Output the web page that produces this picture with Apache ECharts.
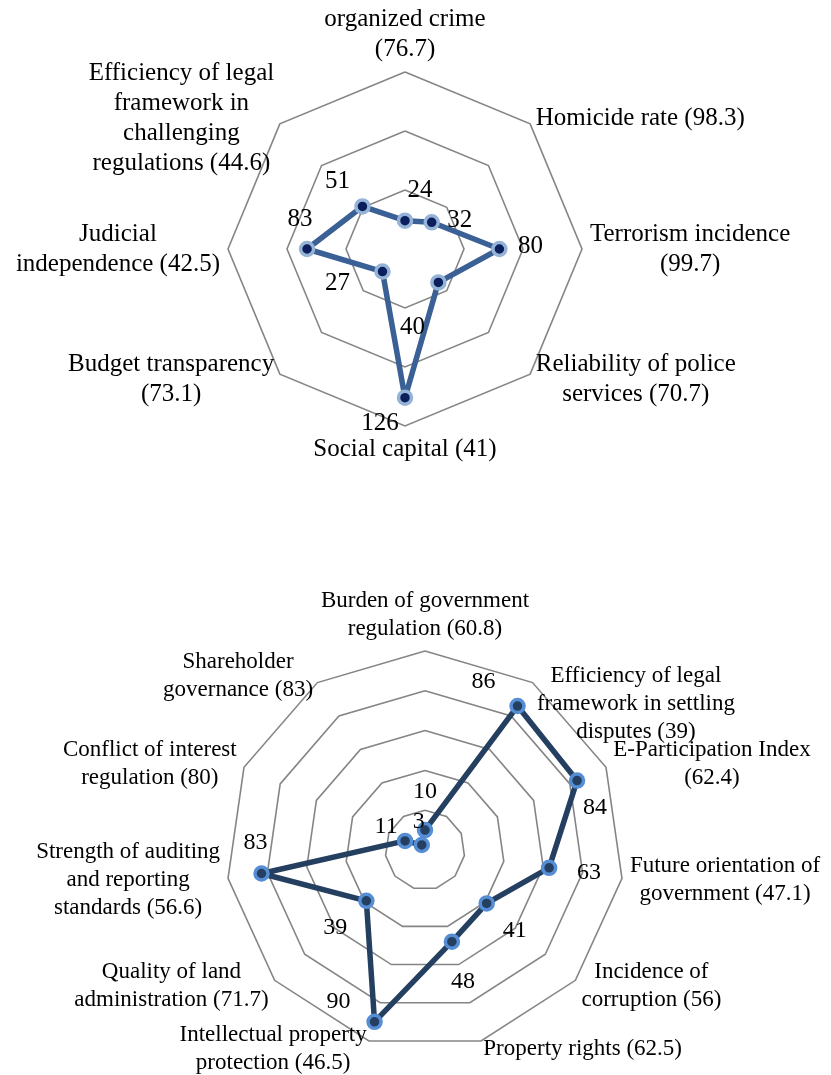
<!DOCTYPE html>
<html>
<head>
<meta charset="utf-8">
<script src="https://cdn.jsdelivr.net/npm/echarts@6/dist/echarts.min.js"></script>
<style>
  html, body { margin: 0; padding: 0; background: #ffffff; }
  #chart { width: 831px; height: 1075px; }
</style>
</head>
<body>
<div id="chart"></div>
<script>
// ---- Data (clockwise from top, as in the reference) ----
const topCategories = [
  'organized crime\n(76.7)',
  'Homicide rate (98.3)',
  'Terrorism incidence\n(99.7)',
  'Reliability of police\nservices (70.7)',
  'Social capital (41)',
  'Budget transparency\n(73.1)',
  'Judicial\nindependence (42.5)',
  'Efficiency of legal\nframework in\nchallenging\nregulations (44.6)'
];
const topValues = [24, 32, 80, 40, 126, 27, 83, 51];
const topMax = 150;
const topSplits = 3;

const bottomCategories = [
  'Burden of government\nregulation (60.8)',
  'Efficiency of legal\nframework in settling\ndisputes (39)',
  'E-Participation Index\n(62.4)',
  'Future orientation of\ngovernment (47.1)',
  'Incidence of\ncorruption (56)',
  'Property rights (62.5)',
  'Intellectual property\nprotection (46.5)',
  'Quality of land\nadministration (71.7)',
  'Strength of auditing\nand reporting\nstandards (56.6)',
  'Conflict of interest\nregulation (80)',
  'Shareholder\ngovernance (83)'
];
const bottomValues = [10, 86, 84, 63, 41, 48, 90, 39, 83, 11, 3];
const bottomMax = 100;
const bottomSplits = 5;

// ---- Styling (label offsets relative to each point, extra lines above names) ----
const topLabelOffsets = [[15,-30],[28,-2],[31,-3],[-26,45],[-25,26],[-45,12],[-7,-30],[-25,-25]];
const bottomLabelOffsets = [[0,-38],[-34,-24],[18,27],[40,5],[28,27],[11,40],[-36,-20],[-31,27],[-6,-31],[-19,-14],[-3,-23]];
const bottomNameShiftLines = [0, 2, 0, 0, 0, 0, 0, 0, 0, 0, 0];

const FONT = '"Liberation Serif", "DejaVu Serif", serif';

// ECharts places radar indicators counter-clockwise; reorder so they run clockwise.
function cw(arr) { return [arr[0]].concat(arr.slice(1).reverse()); }

function nameFormatterFor(categories, shifts) {
  return function (name) {
    const idx = categories.indexOf(name);
    const extra = shifts ? shifts[idx] : 0;
    const lines = name.split('\n').map(l => '{c|' + l + '}');
    for (let k = 0; k < extra; k++) lines.unshift('');
    return lines.join('\n');
  };
}

function radarComp(center, radius, categories, max, splits, fontSize, lineHeight, shifts) {
  return {
    center: center,
    radius: radius,
    startAngle: 90,
    shape: 'polygon',
    splitNumber: splits,
    nameGap: 8,
    indicator: cw(categories).map(c => ({ name: c, max: max, min: 0 })),
    axisName: {
      color: '#000000',
      fontFamily: FONT,
      fontSize: fontSize,
      lineHeight: lineHeight,
      formatter: nameFormatterFor(categories, shifts),
      rich: {
        c: { align: 'center', fontFamily: FONT, fontSize: fontSize, lineHeight: lineHeight, color: '#000000' }
      }
    },
    axisLine: { show: false },
    axisTick: { show: false },
    axisLabel: { show: false },
    splitArea: { show: false },
    splitLine: { show: true, lineStyle: { color: '#858585', width: 1.6 } }
  };
}

function mainSeries(radarIndex, values, lineColor, fill, border) {
  return {
    type: 'radar',
    radarIndex: radarIndex,
    silent: true,
    symbol: 'circle',
    symbolSize: 13,
    lineStyle: { color: lineColor, width: 5.5 },
    itemStyle: { color: fill, borderColor: border, borderWidth: 3.5 },
    label: { show: false },
    data: [{ value: cw(values) }]
  };
}

function labelSeries(radarIndex, values, offsets, fontSize) {
  return values.map((v, i) => ({
    type: 'radar',
    radarIndex: radarIndex,
    silent: true,
    symbol: 'circle',
    symbolSize: 1,
    lineStyle: { width: 0, color: 'rgba(0,0,0,0)' },
    itemStyle: { color: 'rgba(0,0,0,0)', borderWidth: 0 },
    label: {
      show: true,
      position: 'inside',
      offset: offsets[i],
      color: '#000000',
      fontFamily: FONT,
      fontSize: fontSize,
      formatter: p => (p.value === values[i] ? String(p.value) : '')
    },
    z: 5,
    data: [{ value: cw(values) }]
  }));
}

const chart = echarts.init(document.getElementById('chart'), null, { renderer: 'canvas' });
chart.setOption({
  backgroundColor: '#ffffff',
  animation: false,
  radar: [
    radarComp([405, 249], 177, topCategories, topMax, topSplits, 25, 30, null),
    radarComp([425, 850], 199, bottomCategories, bottomMax, bottomSplits, 23, 28, bottomNameShiftLines)
  ],
  series: [
    mainSeries(0, topValues, '#3A6096', '#0B1F5C', '#95B3D7'),
    mainSeries(1, bottomValues, '#243F60', '#243F60', '#558ED5')
  ].concat(
    labelSeries(0, topValues, topLabelOffsets, 25),
    labelSeries(1, bottomValues, bottomLabelOffsets, 24)
  )
});
</script>
</body>
</html>
